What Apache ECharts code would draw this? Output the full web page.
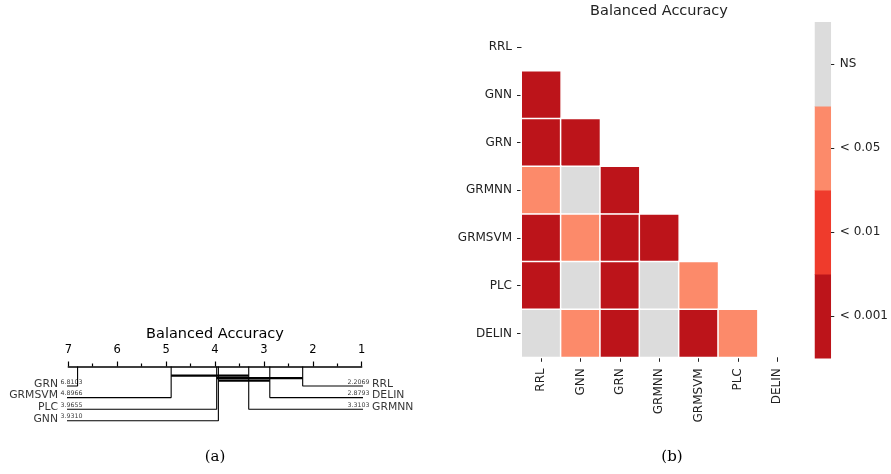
<!DOCTYPE html>
<html>
<head>
<meta charset="utf-8">
<script src="https://cdn.jsdelivr.net/npm/echarts@6/dist/echarts.min.js"></script>
<style>
  html, body { margin: 0; padding: 0; background: #fff; }
  #chart { width: 891px; height: 474px; }
</style>
</head>
<body>
<div id="chart"></div>
<script>
// (a) mean ranks, CD diagram
var cdMethods = ['GRN', 'GRMSVM', 'PLC', 'GNN', 'RRL', 'DELIN', 'GRMNN'];
var cdRanks = [6.8103, 4.8966, 3.9655, 3.9310, 2.2069, 2.8793, 3.3103];
var cdSide = ['left', 'left', 'left', 'left', 'right', 'right', 'right'];
// cliques of methods not significantly different (from rank, to rank)
var cliqueFrom = [4.8966, 3.9655, 3.9310];
var cliqueTo = [3.3103, 2.2069, 2.8793];
var rankTicks = [1, 7];

// (b) pairwise significance, lower triangle, index into sigLevels
var hmMethods = ['RRL', 'GNN', 'GRN', 'GRMNN', 'GRMSVM', 'PLC', 'DELIN'];
var sigLevels = ['< 0.001', '< 0.01', '< 0.05', 'NS'];
var sigRows = [
  [],
  [0],
  [0, 0],
  [2, 3, 0],
  [0, 2, 0, 0],
  [0, 3, 0, 3, 2],
  [3, 2, 0, 3, 0, 2]
];
var levelColors = ['#bc141a', '#ef3b2c', '#fc8a6a', '#dcdcdc'];

var FONT = 'DejaVu Sans';
var chart = echarts.init(document.getElementById('chart'), null, { renderer: 'canvas' });

// layout helpers for the cd diagram (px below the axis line)
var rowStart = 19.5, rowStep = 11.6;
var cliqueStart = 9.2, cliqueStep = 2.5;
var edgeLeft = 7.16, edgeRight = 0.84;

var series = [];
var leftRow = 0, rightRow = 0;
var nameLabels = [], valueLabels = [];
cdMethods.forEach(function (m, i) {
  var left = cdSide[i] === 'left';
  var yy = rowStart + rowStep * (left ? leftRow++ : rightRow++);
  var ex = left ? edgeLeft : edgeRight;
  series.push({
    type: 'line', xAxisIndex: 0, yAxisIndex: 0, symbol: 'none', clip: false,
    silent: true, animation: false,
    lineStyle: { color: '#000', width: 1.1 },
    data: [[cdRanks[i], 0], [cdRanks[i], yy], [ex, yy]]
  });
  nameLabels.push({
    value: [ex, yy],
    label: { show: true, formatter: m, position: left ? 'left' : 'right', distance: 2, offset: [0, -2] }
  });
  valueLabels.push({
    value: [ex, yy],
    label: { show: true, formatter: cdRanks[i].toFixed(4), position: 'top', distance: 0.5,
      align: left ? 'left' : 'right' }
  });
});
series.push({
  type: 'scatter', xAxisIndex: 0, yAxisIndex: 0, symbolSize: 1, clip: false,
  silent: true, animation: false, itemStyle: { color: 'rgba(0,0,0,0)' },
  label: { color: '#000', fontSize: 10.8, fontFamily: FONT },
  data: nameLabels
});
series.push({
  type: 'scatter', xAxisIndex: 0, yAxisIndex: 0, symbolSize: 1, clip: false,
  silent: true, animation: false, itemStyle: { color: 'rgba(0,0,0,0)' },
  label: { color: '#000', fontSize: 6.3, fontFamily: FONT },
  data: valueLabels
});
cliqueFrom.forEach(function (r, k) {
  var cy = cliqueStart + cliqueStep * k;
  series.push({
    type: 'line', xAxisIndex: 0, yAxisIndex: 0, symbol: 'none', clip: false,
    silent: true, animation: false,
    lineStyle: { color: '#000', width: 2.2 },
    data: [[r, cy], [cliqueTo[k], cy]]
  });
});

// heatmap cells
var cells = [];
sigRows.forEach(function (row, i) {
  row.forEach(function (lv, j) { cells.push([j, i, lv]); });
});
series.push({
  type: 'heatmap', xAxisIndex: 1, yAxisIndex: 1, animation: false,
  itemStyle: { borderColor: '#fff', borderWidth: 1.5 },
  emphasis: { disabled: true },
  data: cells
});
// colorbar
series.push({
  type: 'heatmap', xAxisIndex: 2, yAxisIndex: 2, animation: false,
  emphasis: { disabled: true },
  data: sigLevels.map(function (s, k) { return [0, k, k]; })
});

var hmTick = { show: true, alignWithLabel: true, length: 4.5, lineStyle: { color: '#222', width: 1 } };
var hmLabel = { color: '#222', fontSize: 12, fontFamily: FONT };

var option = {
  backgroundColor: '#fff',
  textStyle: { fontFamily: FONT },
  animation: false,
  grid: [
    { left: 68.3, top: 366.5, width: 293.4, height: 60 },
    { left: 521.5, top: 23.3, width: 275.5, height: 334 },
    { left: 815, top: 22.3, width: 16, height: 336 }
  ],
  xAxis: [
    {
      gridIndex: 0, type: 'value', min: rankTicks[0], max: rankTicks[1], interval: 1,
      inverse: true, position: 'top',
      axisLine: { show: true, lineStyle: { color: '#000', width: 1.5 } },
      axisTick: { show: true, length: 5, lineStyle: { color: '#000', width: 1.2 } },
      minorTick: { show: true, splitNumber: 2, length: 3, lineStyle: { color: '#000', width: 1.2 } },
      axisLabel: { color: '#000', fontSize: 11.5, margin: 10 },
      splitLine: { show: false }, minorSplitLine: { show: false }
    },
    {
      gridIndex: 1, type: 'category', data: hmMethods, position: 'bottom',
      axisLine: { show: false }, axisTick: hmTick,
      axisLabel: Object.assign({ rotate: 90, margin: 11, interval: 0 }, hmLabel),
      splitLine: { show: false }
    },
    {
      gridIndex: 2, type: 'category', data: [''], show: false
    }
  ],
  yAxis: [
    { gridIndex: 0, type: 'value', inverse: true, min: 0, max: 60, show: false },
    {
      gridIndex: 1, type: 'category', data: hmMethods, inverse: true,
      axisLine: { show: false }, axisTick: hmTick,
      axisLabel: Object.assign({ margin: 9.5, interval: 0 }, hmLabel),
      splitLine: { show: false }
    },
    {
      gridIndex: 2, type: 'category', data: sigLevels, position: 'right',
      axisLine: { show: false },
      axisTick: { show: true, alignWithLabel: true, length: 3.5, lineStyle: { color: '#222' } },
      axisLabel: Object.assign({ margin: 9, interval: 0 }, hmLabel),
      splitLine: { show: false }
    }
  ],
  visualMap: {
    type: 'piecewise', show: false, dimension: 2, seriesIndex: [series.length - 2, series.length - 1],
    pieces: levelColors.map(function (c, k) { return { value: k, color: c }; })
  },
  graphic: [
    { type: 'text', x: 215, y: 334, silent: true,
      style: { text: 'Balanced Accuracy', align: 'center', verticalAlign: 'middle', font: '14.5px "DejaVu Sans"', fill: '#000' } },
    { type: 'text', x: 659, y: 11, silent: true,
      style: { text: 'Balanced Accuracy', align: 'center', verticalAlign: 'middle', font: '14.5px "DejaVu Sans"', fill: '#222' } },
    { type: 'text', x: 215, y: 457, silent: true,
      style: { text: '(a)', align: 'center', verticalAlign: 'middle', font: '15px "DejaVu Serif"', fill: '#000' } },
    { type: 'text', x: 672, y: 457, silent: true,
      style: { text: '(b)', align: 'center', verticalAlign: 'middle', font: '15px "DejaVu Serif"', fill: '#000' } }
  ],
  series: series
};
chart.setOption(option);
</script>
</body>
</html>
